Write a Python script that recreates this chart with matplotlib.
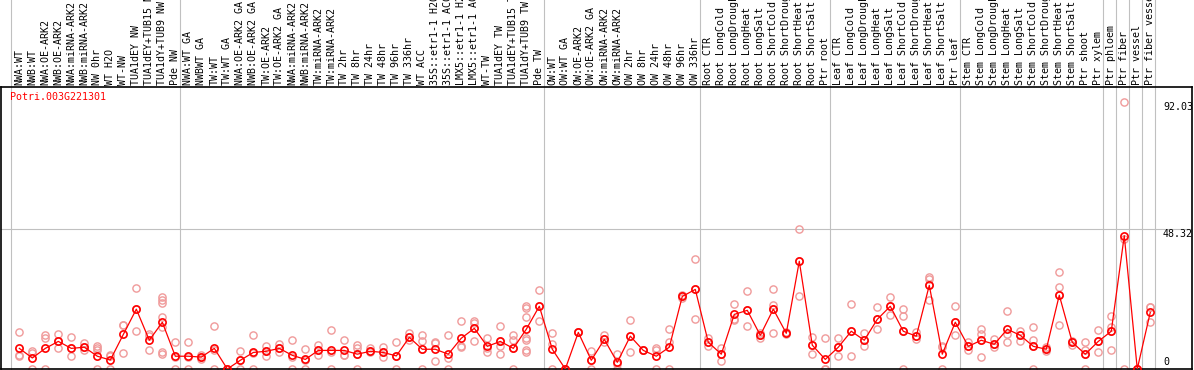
import numpy as np
import matplotlib
matplotlib.use('Agg')
import matplotlib.pyplot as plt
from matplotlib.transforms import blended_transform_factory

gene_id = 'Potri.003G221301'

labels = [
    'NWA:WT', 'NWB:WT', 'NWA:OE-ARK2', 'NWB:OE-ARK2', 'NWA:miRNA-ARK2', 'NWB:miRNA-ARK2',
    'NW 0hr', 'WT H2O', 'WT-NW', 'TUA1dEY NW', 'TUA1dEY+TUB15 NW', 'TUA1dY+TUB9 NW', 'Pde NW',
    'NWA:WT GA', 'NWBWT GA', 'TW:WT', 'TW:WT GA', 'NWA:OE-ARK2 GA', 'NWB:OE-ARK2 GA',
    'TW:OE-ARK2', 'TW:OE-ARK2 GA', 'NWA:miRNA-ARK2', 'NWB:miRNA-ARK2', 'TW:miRNA-ARK2',
    'TW:miRNA-ARK2', 'TW 2hr', 'TW 8hr', 'TW 24hr', 'TW 48hr', 'TW 96hr', 'TW 336hr',
    'WT ACC', '35S::etr1-1 H2O', '35S::etr1-1 ACC', 'LMX5::etr1-1 H2O', 'LMX5::etr1-1 ACC',
    'WT-TW', 'TUA1dEY TW', 'TUA1dEY+TUB15 TW', 'TUA1dY+TUB9 TW', 'Pde TW',
    'OW:WT', 'OW:WT GA', 'OW:OE-ARK2', 'OW:OE-ARK2 GA', 'OW:miRNA-ARK2', 'OW:miRNA-ARK2',
    'OW 2hr', 'OW 8hr', 'OW 24hr', 'OW 48hr', 'OW 96hr', 'OW 336hr',
    'Root CTR', 'Root LongCold', 'Root LongDrought', 'Root LongHeat', 'Root LongSalt',
    'Root ShortCold', 'Root ShortDrought', 'Root ShortHeat', 'Root ShortSalt', 'Ptr root',
    'Leaf CTR', 'Leaf LongCold', 'Leaf LongDrought', 'Leaf LongHeat', 'Leaf LongSalt',
    'Leaf ShortCold', 'Leaf ShortDrought', 'Leaf ShortHeat', 'Leaf ShortSalt', 'Ptr leaf',
    'Stem CTR', 'Stem LongCold', 'Stem LongDrought', 'Stem LongHeat', 'Stem LongSalt',
    'Stem ShortCold', 'Stem ShortDrought', 'Stem ShortHeat', 'Stem ShortSalt', 'Ptr shoot',
    'Ptr xylem', 'Ptr phloem', 'Ptr fiber', 'Ptr vessel', 'Ptr fiber vessel',
]

# samples per block, separated by grey lines
group_sizes = [13, 28, 12, 10, 10, 11, 1, 1, 1, 1]

means = [
    7.1, 3.8, 7.1, 9.5, 7.1, 7.5, 4.4, 3.1, 11.9, 20.6, 9.9, 16.1, 4.4,
    4.4, 4.1, 7.1, 0.0, 3.0, 5.7, 6.1, 7.1, 4.7, 3.3, 6.4, 6.4, 6.4, 5.1, 6.1, 5.7,
    4.5, 10.9, 6.8, 6.8, 5.1, 10.6, 14.0, 7.8, 9.5, 7.1, 13.7, 21.6,
    6.8, 0.0, 12.6, 3.0, 10.2, 2.3, 11.3, 6.4, 4.4, 7.5, 25.0, 27.4,
    9.2, 5.1, 18.8, 20.2, 11.6, 20.6, 12.3, 37.1, 8.2, 3.3,
    7.5, 13.0, 9.9, 17.1, 21.6, 13.0, 11.3, 28.8, 5.1, 16.1,
    7.8, 9.9, 8.5, 13.7, 11.6, 7.8, 6.8, 25.4, 9.2, 5.1, 9.5,
    13.0, 45.9, 0.0, 19.5,
]

replicates = [
    [12.6, 4.7, 4.4], [6.1, 5.5, 0], [11.6, 10.6, 0], [11.9, 9.5, 7.1],
    [10.9, 7.1, 4.4], [8.8, 7.5, 6.4], [7.8, 7.1, 6.4, 0], [4.8, 4.5, 0],
    [15.1, 15.1, 5.4], [27.8, 20.6, 13.0], [11.9, 11.5, 6.4],
    [24.7, 23.8, 22.6, 18.0, 14.4, 6.0, 5.1], [9.2, 4.0, 0],
    [9.2, 4.0, 0], [4.7, 4.1, 3.4], [14.7, 6.6, 0], [0, 0, 0], [6.1, 3.0, 0],
    [11.6, 5.5, 0], [7.8, 6.1, 4.4], [8.5, 7.1, 5.7], [9.9, 4.2, 0], [6.8, 3.2, 0],
    [8.1, 6.4, 4.7], [13.3, 6.0, 0], [9.9, 4.7, 4.7], [8.1, 7.1, 5.1, 0],
    [7.1, 6.1, 5.7], [7.5, 5.7, 4.0], [9.2, 4.4, 0], [12.3, 10.9, 9.9],
    [11.6, 9.5, 6.8, 0], [9.2, 8.8, 2.6], [11.6, 3.7, 0], [16.4, 7.8, 7.6],
    [16.4, 15.7, 14.0, 9.5], [10.6, 7.1, 5.7], [14.7, 9.5, 7.8, 5.1],
    [11.6, 9.9, 7.1, 0], [21.6, 20.9, 17.8, 10.6, 9.9, 6.4, 5.7], [27.1, 21.6, 16.4],
    [12.3, 8.5, 0], [0, 0, 0], [12.6, 12.6, 12.6], [6.1, 3.0, 0], [11.6, 10.2, 9.2],
    [5.1, 1.8, 0], [16.8, 11.3, 5.8], [6.4, 6.4, 6.4], [7.1, 6.4, 0], [13.7, 9.2, 0],
    [25.4, 25.0, 24.6], [37.8, 27.4, 17.1],
    [10.6, 9.2, 7.8], [7.1, 5.1, 2.6], [22.3, 17.1, 17.0], [26.7, 20.2, 14.7],
    [12.3, 11.6, 10.6], [27.4, 21.9, 20.6, 12.3], [12.6, 12.3, 12.0],
    [48.1, 37.1, 25.0], [10.9, 8.2, 5.1], [10.6, 0, 0],
    [10.6, 7.5, 4.4], [22.3, 13.0, 4.4], [12.3, 9.9, 7.8], [21.2, 17.1, 13.7],
    [24.7, 21.6, 18.5], [20.5, 18.1, 13.0, 0], [12.6, 11.3, 10.2],
    [31.6, 30.9, 28.8, 23.6], [7.8, 7.5, 0], [21.6, 16.1, 11.6],
    [9.2, 7.8, 6.4], [13.7, 11.9, 9.9, 4.0], [10.2, 8.5, 7.5], [19.9, 12.0, 9.2],
    [13.0, 11.6, 9.5], [14.3, 9.9, 7.8, 0], [7.5, 6.8, 6.1], [33.3, 28.1, 25.4, 15.0],
    [9.5, 9.2, 8.1], [9.2, 6.4, 5.1, 0], [13.3, 9.5, 5.7],
    [18.1, 14.3, 13.0, 6.4], [92.03, 44.7, 0], [0, 0, 0], [21.2, 21.2, 16.1],
]

tick_values = [0, 48.32, 92.03]

W, H = 1194, 370
mono = 'DejaVu Sans Mono'
grey = '#c0c0c0'

fig = plt.figure(figsize=(W / 100, H / 100), dpi=100)
ax = fig.add_axes([1 / W, 1 / H, 1191 / W, 282 / H])

n = len(labels)
x = np.arange(n)

for i, reps in enumerate(replicates):
    ax.plot([i] * len(reps), reps, 'o', mfc='none', mec='#f09a9a', ms=5.2, mew=1.0, zorder=2)

ax.plot(x, means, '-', color='red', lw=0.9, marker='o', mfc='none', mec='red',
        ms=5.2, mew=1.2, zorder=3)

ax.set_xlim(-1.41, 90.21)
ax.set_ylim(0, 97.1)
ax.set_xticks([])
ax.set_yticks([])
for sp in ax.spines.values():
    sp.set_linewidth(1.2)
    sp.set_color('black')

# group separators run up through the label strip
top = 1 + 87 / 282
bounds = np.cumsum(group_sizes) - 1
for b in np.concatenate([[-1], bounds]):
    ax.axvline(b + 0.38, ymin=0, ymax=top, color=grey, lw=0.8, clip_on=False, zorder=0)

ax.axhline(tick_values[1], color=grey, lw=0.8, zorder=0)

lab_tr = blended_transform_factory(ax.transData, ax.transAxes)
for i, lab in enumerate(labels):
    ax.text(i, 1 + 2 / 282, lab, transform=lab_tr, rotation=90, rotation_mode='anchor',
            ha='left', va='center', fontsize=7.2, family=mono, clip_on=False)

val_tr = blended_transform_factory(ax.transAxes, ax.transData)
xl = (1163 - 1) / 1191
for v in tick_values:
    txt = '0' if v == 0 else '%.2f' % v
    if v == 0:
        ax.text(xl, 0.8, txt, transform=val_tr, ha='left', va='bottom', fontsize=7.2, family=mono)
    else:
        ax.text(xl, v - 0.2, txt, transform=val_tr, ha='left', va='top', fontsize=7.2, family=mono)

fig.text(10 / W, 1 - 97 / H, gene_id, color='red', ha='left', va='center',
         fontsize=7.2, family=mono)

fig.savefig('out.png', dpi=100)
